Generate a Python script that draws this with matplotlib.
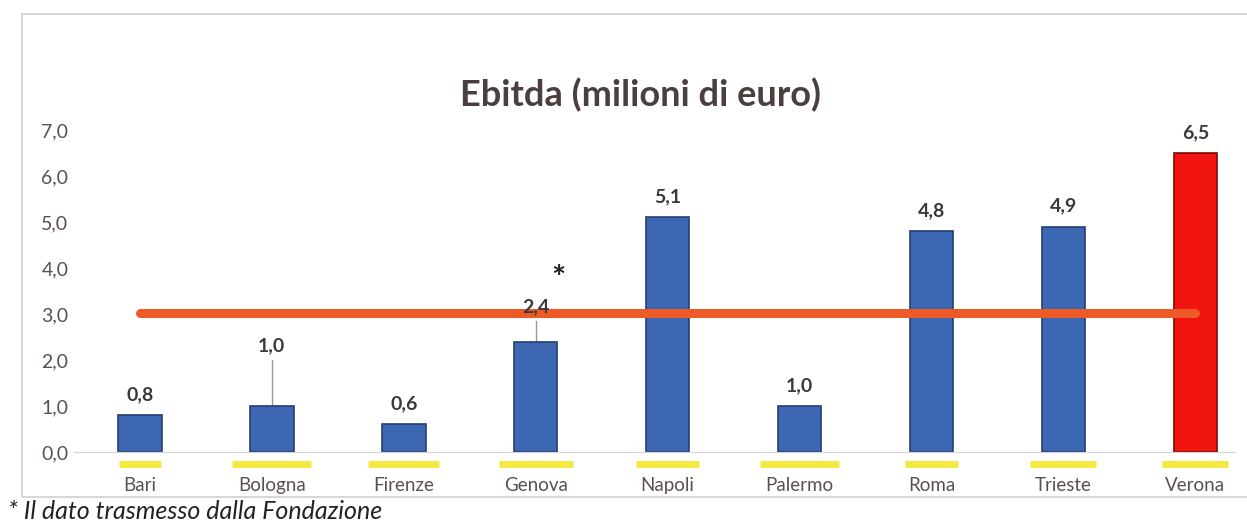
import numpy as np
import matplotlib.pyplot as plt
from matplotlib.patches import Rectangle

plt.rcParams['font.family'] = ['Lato', 'DejaVu Sans']

citta = ["Bari", "Bologna", "Firenze", "Genova", "Napoli", "Palermo", "Roma", "Trieste", "Verona"]
ebitda = [0.8, 1.0, 0.6, 2.4, 5.1, 1.0, 4.8, 4.9, 6.5]
# label positions that were moved up with a leader line
label_y = [None, 2.3, None, 3.15, None, None, None, None, None]
yticks = [0, 1, 2, 3, 4, 5, 6, 7]
# yellow highlight half-widths under the axis (category units)
evidenzia = [0.16, 0.30, 0.27, 0.28, 0.24, 0.30, 0.20, 0.25, 0.25]

blu = "#3B67B3"
rosso = "#F2140F"
colori = [blu] * 8 + [rosso]
bordi = ["#243F70"] * 8 + ["#7A0A08"]

fig = plt.figure(figsize=(12.47, 5.26), dpi=100)
fig.patch.set_facecolor("white")

# chart frame
fig.patches.append(Rectangle((22 / 1247, 1 - 497 / 526), 1.1, (497 - 14) / 526,
                             transform=fig.transFigure, fill=False,
                             edgecolor="#cfcfcf", lw=1.2))

ax = fig.add_axes([0.0593, 1 - 452 / 526, 0.931, 322 / 526])
x = np.arange(len(citta))
ax.bar(x, ebitda, width=0.33, color=colori, edgecolor=bordi, linewidth=1.2, zorder=2)

media = np.mean(ebitda)
ax.plot([x[0], x[-1]], [media, media], color="#EE5A26", lw=6.5,
        solid_capstyle="round", zorder=3)

for i, v in enumerate(ebitda):
    testo = f"{v:.1f}".replace(".", ",")
    if label_y[i] is None:
        ax.text(i, v + 0.45, testo, ha="center", va="center", fontsize=14,
                fontweight="bold", color="#3a3a3a", zorder=4)
    else:
        ax.text(i, label_y[i], testo, ha="center", va="center", fontsize=14,
                fontweight="bold", color="#3a3a3a", zorder=4)
        ax.plot([i, i], [v, label_y[i] - 0.3], color="#999999", lw=1, zorder=1)

# asterisk on Genova
ax.text(3.17, 3.75, "*", ha="center", va="center", fontsize=24,
        fontweight="bold", color="#222222")

ax.set_xlim(-0.5, 8.3)
ax.set_ylim(0, 7)
ax.set_yticks(yticks)
ax.set_yticklabels([f"{t:.1f}".replace(".", ",") for t in yticks],
                   fontsize=14, color="#5a5050")
ax.set_xticks(x)
ax.set_xticklabels(citta, fontsize=13.5, color="#5a5050")
ax.tick_params(length=0, axis="y", pad=4)
ax.tick_params(length=0, axis="x", pad=18)
for s in ["top", "right", "left"]:
    ax.spines[s].set_visible(False)
ax.spines["bottom"].set_color("#d6d6d6")
ax.spines["bottom"].set_bounds(-0.5, 8.3)

for i, w in enumerate(evidenzia):
    ax.plot([i - w, i + w], [-0.25, -0.25], color="#F4E62A", lw=5,
            clip_on=False, solid_capstyle="butt", alpha=0.9)

fig.text(640 / 1247, 1 - 95 / 526, "Ebitda (milioni di euro)", ha="center",
         va="center", fontsize=26, fontweight="bold", color="#4a3e3e")

fig.text(8 / 1247, 1 - 523 / 526, "* Il dato trasmesso dalla Fondazione",
         ha="left", va="bottom", fontsize=18, style="italic", color="#222222")

fig.savefig("out.png", dpi=100, facecolor="white")
